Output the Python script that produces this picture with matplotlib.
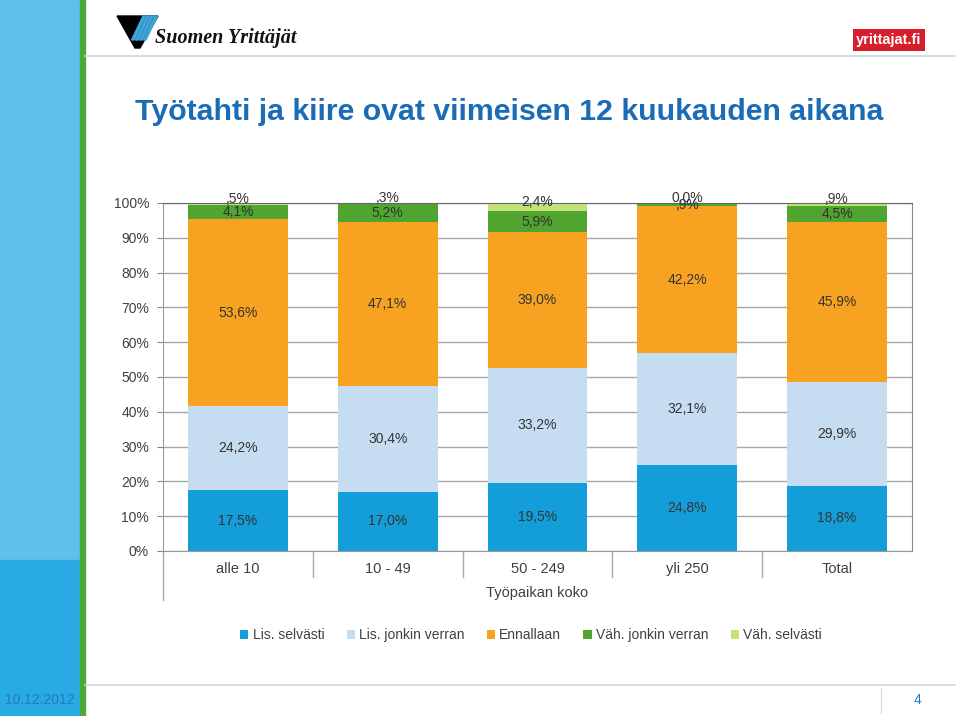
import matplotlib.pyplot as plt
import numpy as np
from matplotlib.patches import Rectangle, Polygon
from matplotlib.lines import Line2D

categories = ['alle 10', '10 - 49', '50 - 249', 'yli 250', 'Total']
series_names = ['Lis. selvästi', 'Lis. jonkin verran', 'Ennallaan',
                'Väh. jonkin verran', 'Väh. selvästi']
lis_selvasti = [17.5, 17.0, 19.5, 24.8, 18.8]
lis_jonkin = [24.2, 30.4, 33.2, 32.1, 29.9]
ennallaan = [53.6, 47.1, 39.0, 42.2, 45.9]
vah_jonkin = [4.1, 5.2, 5.9, 0.9, 4.5]
vah_selvasti = [0.5, 0.3, 2.4, 0.0, 0.9]
# labels as printed in the original (Finnish decimal comma, SPSS style)
labels = [
    ['17,5%', '17,0%', '19,5%', '24,8%', '18,8%'],
    ['24,2%', '30,4%', '33,2%', '32,1%', '29,9%'],
    ['53,6%', '47,1%', '39,0%', '42,2%', '45,9%'],
    ['4,1%', '5,2%', '5,9%', ',9%', '4,5%'],
    [',5%', ',3%', '2,4%', '0,0%', ',9%'],
]
yticks = [0, 10, 20, 30, 40, 50, 60, 70, 80, 90, 100]
ytick_labels = ['0%', '10%', '20%', '30%', '40%', '50%', '60%', '70%', '80%', '90%', '100%']

colors = ['#139ED9', '#C6DDF1', '#F8A221', '#4FA52F', '#C3E377']
series = [lis_selvasti, lis_jonkin, ennallaan, vah_jonkin, vah_selvasti]

plt.rcParams['font.family'] = ['Liberation Sans', 'DejaVu Sans']

fig = plt.figure(figsize=(9.6, 7.16), dpi=100)
W, H = 960, 716

def fx(px):
    return px / W

def fy(py):
    return 1 - py / H

# slide decoration: left strip
fig.patches.append(Rectangle((0, 0), fx(80), 1, transform=fig.transFigure,
                             color='#5FC0EC', zorder=0))
fig.patches.append(Rectangle((0, 0), fx(80), fy(560), transform=fig.transFigure,
                             color='#2AAAE3', zorder=0))
fig.patches.append(Rectangle((fx(80), 0), fx(5), 1, transform=fig.transFigure,
                             color='#4DAA38', zorder=0))
# header & footer lines
fig.lines.append(Line2D([fx(85), fx(955)], [fy(56), fy(56)], transform=fig.transFigure,
                        color='#C9D8E0', lw=1.2))
fig.lines.append(Line2D([fx(85), fx(955)], [fy(685), fy(685)], transform=fig.transFigure,
                        color='#C9D8E0', lw=1.2))
fig.lines.append(Line2D([fx(881), fx(881)], [fy(688), fy(713)], transform=fig.transFigure,
                        color='#D5DDE2', lw=1))
fig.text(fx(5), fy(700), '10.12.2012', color='#1E7BC4', fontsize=10, va='center')
fig.text(fx(918), fy(700), '4', color='#1E7BC4', fontsize=10, va='center', ha='center')

# logo
fig.patches.append(Polygon([[fx(117), fy(16)], [fx(158), fy(16)], [fx(140), fy(48)], [fx(135), fy(48)]],
                           closed=True, transform=fig.transFigure, color='black'))
for k in range(4):
    x0 = 143 + k * 4
    fig.patches.append(Polygon([[fx(x0), fy(16)], [fx(x0 + 2.5), fy(16)], [fx(x0 - 9), fy(40)], [fx(x0 - 11.5), fy(40)]],
                               closed=True, transform=fig.transFigure, color='#3EA6DA'))
fig.text(fx(155), fy(38), 'Suomen Yrittäjät', family=['Liberation Serif', 'DejaVu Serif'],
         style='italic', fontweight='bold', fontsize=14.5, va='center', color='#111111')
fig.text(fx(889), fy(40), 'yrittajat.fi', fontsize=10.5, fontweight='bold', color='white',
         ha='center', va='center',
         bbox=dict(boxstyle='square,pad=0.25', fc='#D71E2B', ec='none'))

# title
fig.text(fx(135), fy(112), 'Työtahti ja kiire ovat viimeisen 12 kuukauden aikana',
         fontsize=21.8, fontweight='bold', color='#1A6CB6', va='center', ha='left')

# chart
ax = fig.add_axes([fx(163), fy(551), fx(912) - fx(163), fy(203) - fy(551)])
x = np.arange(len(categories))
bottom = np.zeros(len(categories))
for i, (vals, name, c) in enumerate(zip(series, series_names, colors)):
    vals = np.array(vals)
    ax.bar(x, vals, bottom=bottom, width=0.667, color=c, label=name, zorder=2)
    for j in range(len(categories)):
        yc = bottom[j] + vals[j] / 2
        if i == 4:
            yc += 1.5
        ax.text(x[j], yc, labels[i][j], ha='center', va='center', fontsize=10,
                color='#333333', zorder=4)
    bottom = bottom + vals

ax.set_xlim(-0.5, len(categories) - 0.5)
ax.set_ylim(0, 100)
ax.set_yticks(yticks)
ax.set_yticklabels(ytick_labels)
ax.yaxis.grid(True, color='#A6A6A6', lw=1, zorder=0)
ax.set_axisbelow(True)
ax.tick_params(axis='y', length=4, color='#888888', labelcolor='#404040', labelsize=10, pad=6)
ax.tick_params(axis='x', length=0, labelcolor='#404040', labelsize=10.5, pad=8)
ax.set_xticks(x)
ax.set_xticklabels(categories)
ax.spines['top'].set_color('#666666')
ax.spines['right'].set_color('#888888')
ax.spines['left'].set_color('#999999')
ax.spines['bottom'].set_color('#999999')
# category separators below axis
for b in np.arange(0.5, len(categories) - 0.5, 1):
    ax.plot([b, b], [0, -7.5], color='#AAAAAA', lw=1, clip_on=False)
ax.plot([-0.5, -0.5], [0, -14], color='#AAAAAA', lw=1, clip_on=False)
ax.text(2, -12, 'Työpaikan koko', ha='center', va='center', fontsize=10.5, color='#404040')

leg = fig.legend(loc='center', bbox_to_anchor=(fx(531), fy(635)), ncol=5, frameon=False,
                 handlelength=0.6, handleheight=0.6, handletextpad=0.3, columnspacing=1.6,
                 fontsize=10)
for t in leg.get_texts():
    t.set_color('#404040')

fig.savefig('out.png', dpi=100)
